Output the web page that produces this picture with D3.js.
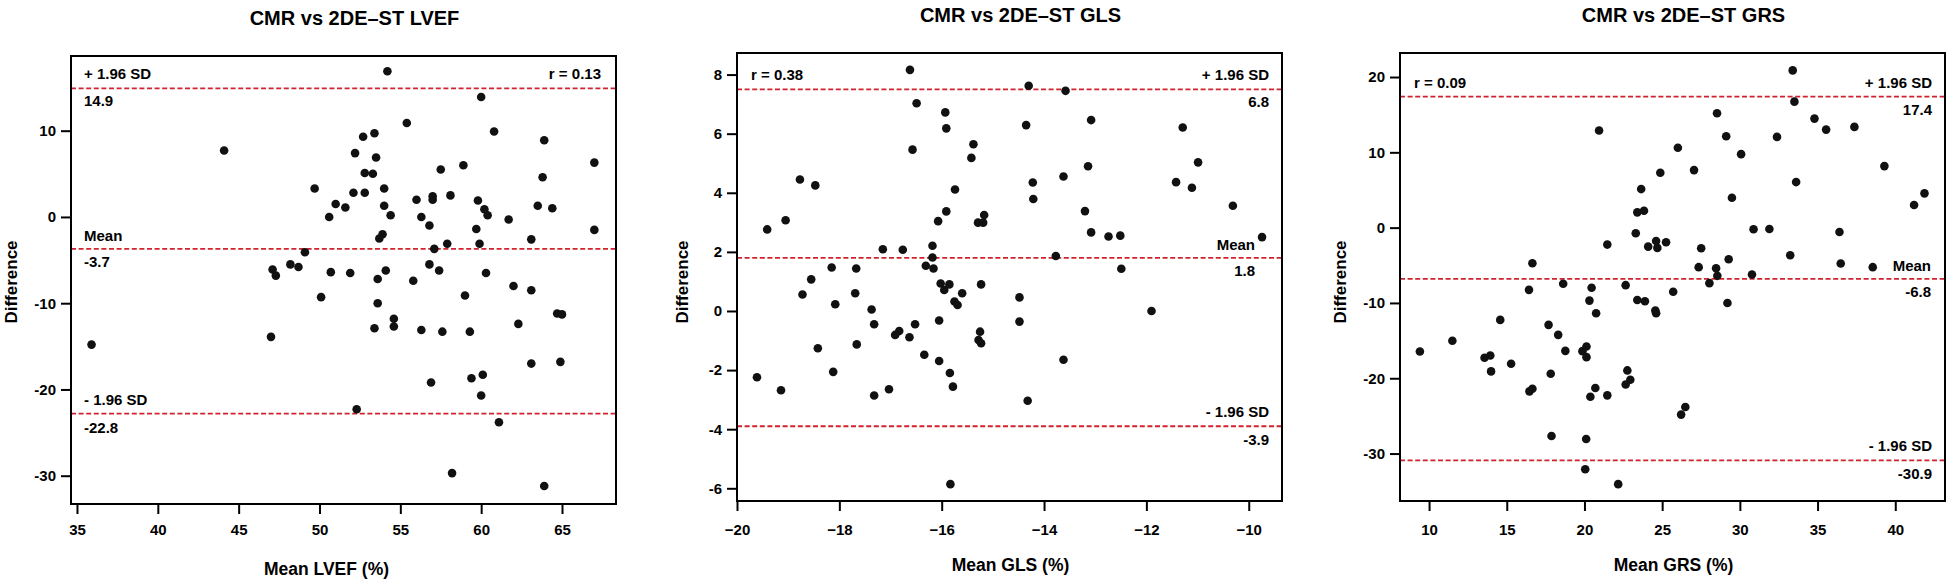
<!DOCTYPE html>
<html>
<head>
<meta charset="utf-8">
<title>Bland-Altman CMR vs 2DE-ST</title>
<script src="https://cdn.jsdelivr.net/npm/d3@7"></script>
<style>
  body { margin: 0; background: #fff; }
</style>
</head>
<body>
<script>
// ---- data ----
var lvefMean = [54.2,60.0,55.4,60.8,53.4,52.7,63.9,44.1,52.2,53.5,67.0,58.9,57.5,52.8,53.3,63.8,49.7,54.0,52.1,52.8,
                58.1,57.0,57.0,56.0,59.8,51.0,54.0,63.5,51.6,60.2,64.4,54.4,60.4,50.6,56.3,61.7,56.8,59.7,67.0,53.9,
                53.7,63.1,57.9,59.9,57.1,49.1,48.2,56.8,48.7,47.1,54.1,57.4,47.3,50.7,51.9,60.3,53.6,55.8,62.0,63.1,
                59.0,50.1,53.6,64.7,65.0,54.6,54.6,62.3,53.4,56.3,57.6,59.3,47.0,35.9,63.1,64.9,60.1,59.4,56.9,60.0,
                52.3,61.1,58.2,63.9];
var lvefDiff = [16.9,13.9,10.9,9.9,9.7,9.3,8.9,7.7,7.4,6.9,6.3,6.0,5.5,5.1,5.0,4.6,3.3,3.3,2.8,2.8,
                2.5,2.4,2.0,2.0,1.9,1.5,1.3,1.3,1.1,0.9,1.0,0.2,0.2,0.0,0.0,-0.3,-1.0,-1.4,-1.5,-2.0,
                -2.5,-2.6,-3.1,-3.1,-3.7,-4.1,-5.5,-5.5,-5.8,-6.1,-6.2,-6.2,-6.8,-6.4,-6.5,-6.5,-7.2,-7.4,-8.0,-8.5,
                -9.1,-9.3,-10.0,-11.2,-11.3,-11.8,-12.7,-12.4,-12.9,-13.1,-13.3,-13.3,-13.9,-14.8,-17.0,-16.8,-18.3,-18.7,-19.2,-20.7,
                -22.3,-23.8,-29.7,-31.2];

var glsMean = [-16.62,-14.30,-13.58,-16.49,-15.93,-13.08,-14.35,-11.29,-15.91,-16.57,-15.38,-15.42,-10.99,-13.14,-13.62,-18.77,-11.42,-14.22,-18.47,-11.11,
               -15.74,-14.21,-10.31,-13.20,-15.91,-15.17,-19.05,-16.07,-15.29,-15.19,-19.41,-13.08,-12.74,-12.51,-9.74,-16.18,-17.15,-16.76,-13.77,-16.18,
               -16.31,-18.15,-17.67,-16.16,-12.49,-18.55,-16.02,-15.85,-15.23,-15.95,-15.60,-18.72,-17.69,-14.48,-15.75,-15.69,-18.08,-17.37,-11.90,-16.05,
               -17.32,-16.52,-14.48,-16.83,-15.25,-16.91,-16.63,-15.28,-15.23,-17.66,-18.42,-16.34,-13.62,-16.05,-18.12,-15.84,-19.61,-15.78,-17.03,-19.14,
               -17.32,-14.32,-15.83];
var glsDiff = [8.16,7.62,7.45,7.03,6.72,6.46,6.29,6.21,6.18,5.46,5.64,5.18,5.03,4.90,4.55,4.45,4.36,4.35,4.25,4.17,
               4.11,3.79,3.56,3.38,3.37,3.25,3.07,3.04,2.99,2.99,2.76,2.66,2.52,2.55,2.50,2.21,2.09,2.07,1.86,1.81,
               1.53,1.47,1.44,1.44,1.43,1.07,0.93,0.90,0.90,0.71,0.60,0.56,0.60,0.46,0.32,0.20,0.23,0.05,0.00,-0.32,
               -0.45,-0.45,-0.36,-0.68,-0.70,-0.81,-0.89,-0.98,-1.09,-1.13,-1.26,-1.48,-1.65,-1.69,-2.06,-2.10,-2.24,-2.56,-2.65,-2.68,
               -2.86,-3.04,-5.86];

var grsMean = [33.40,33.51,28.53,34.80,37.37,35.55,20.94,29.12,32.39,26.01,30.08,39.30,27.05,24.88,33.62,23.65,29.49,41.88,41.21,23.83,
               23.40,30.88,31.90,36.41,23.30,21.47,24.61,25.25,24.10,24.69,27.51,29.28,33.24,16.65,36.49,38.55,27.35,28.47,28.55,30.78,
               28.04,22.65,18.63,20.46,16.43,25.71,20.32,23.40,23.89,29.20,24.56,24.61,20.75,14.58,17.69,18.31,11.50,9.41,18.77,20.13,
               19.87,20.13,13.57,13.94,15.28,13.99,17.83,22.76,22.95,22.65,16.46,16.65,20.70,20.38,21.47,26.49,26.22,17.88,20.11,20.05,
               22.17];
var grsDiff = [20.88,16.73,15.19,14.48,13.38,13.02,12.89,12.14,12.05,10.60,9.76,8.17,7.64,7.28,6.05,5.12,3.97,4.55,3.00,2.25,
               2.03,-0.22,-0.18,-0.57,-0.75,-2.25,-1.77,-1.94,-2.52,-2.69,-2.74,-4.19,-3.66,-4.72,-4.77,-5.25,-5.25,-5.39,-6.40,-6.23,
               -7.37,-7.64,-7.46,-7.99,-8.26,-8.52,-9.69,-9.60,-9.78,-10.00,-11.02,-11.37,-11.37,-12.25,-12.91,-14.24,-15.03,-16.45,-16.36,-15.78,
               -16.40,-17.20,-17.28,-16.98,-18.08,-19.09,-19.40,-18.96,-20.20,-20.82,-21.74,-21.39,-21.30,-22.45,-22.27,-23.82,-24.83,-27.66,-28.06,-32.08,
               -34.06];

var lvefXTicks = [35, 40, 45, 50, 55, 60, 65];
var lvefYTicks = [-30, -20, -10, 0, 10];
var glsXTicks = [-20, -18, -16, -14, -12, -10];
var glsYTicks = [-6, -4, -2, 0, 2, 4, 6, 8];
var grsXTicks = [10, 15, 20, 25, 30, 35, 40];
var grsYTicks = [-30, -20, -10, 0, 10, 20];

var titles = ["CMR vs 2DE\u2013ST LVEF", "CMR vs 2DE\u2013ST GLS", "CMR vs 2DE\u2013ST GRS"];
var xLabels = ["Mean LVEF (%)", "Mean GLS (%)", "Mean GRS (%)"];
var rTexts = ["r = 0.13", "r = 0.38", "r = 0.09"];
var upperLines = [14.9, 7.5, 17.4];
var meanLines = [-3.7, 1.8, -6.8];
var lowerLines = [-22.8, -3.9, -30.9];
var upperTexts = ["14.9", "6.8", "17.4"];
var meanTexts = ["-3.7", "1.8", "-6.8"];
var lowerTexts = ["-22.8", "-3.9", "-30.9"];

// ---- layout ----
var w = 1953, h = 580;
var font = "'Liberation Sans', Arial, sans-serif";
var red = "#d0232e";

var panels = [
  {mean: lvefMean, diff: lvefDiff, xt: lvefXTicks, yt: lvefYTicks,
   left: 71, right: 616, top: 56, bottom: 504, xDom: [34.63, 68.34], yDom: [-33.28, 18.66],
   labelsLeft: true, meanInset: 13, titleY: 25, xLabelY: 575, xLabelDx: -17, yLabelX: 17},
  {mean: glsMean, diff: glsDiff, xt: glsXTicks, yt: glsYTicks,
   left: 737, right: 1282, top: 53, bottom: 501, xDom: [-20, -9.35], yDom: [-6.43, 8.73],
   labelsLeft: false, meanInset: 27, titleY: 22, xLabelY: 571, xLabelDx: 1, yLabelX: 688},
  {mean: grsMean, diff: grsDiff, xt: grsXTicks, yt: grsYTicks,
   left: 1400, right: 1945, top: 53, bottom: 501, xDom: [8.13, 43.2], yDom: [-36.3, 23.19],
   labelsLeft: false, meanInset: 14, titleY: 22, xLabelY: 571, xLabelDx: 1, yLabelX: 1346}
];

var svg = d3.select("body")
            .append("svg")
            .attr("width", w)
            .attr("height", h)
            .style("display", "block");

panels.forEach(function(p, i) {
  var xScale = d3.scaleLinear().domain(p.xDom).range([p.left, p.right]);
  var yScale = d3.scaleLinear().domain(p.yDom).range([p.bottom, p.top]);
  var g = svg.append("g");

  // x axis, labels baseline at ~535
  var xAxis = d3.axisBottom(xScale)
                .tickValues(p.xt)
                .tickSize(10)
                .tickPadding(535 - p.bottom - 10 - 10.6);
  g.append("g")
   .attr("transform", "translate(0," + p.bottom + ")")
   .call(xAxis)
   .call(function(a) { a.select(".domain").remove(); });

  var yAxis = d3.axisLeft(yScale)
                .tickValues(p.yt)
                .tickSize(10)
                .tickPadding(5)
                .tickFormat(function(d) { return String(d); });   // hyphen minus like the source
  g.append("g")
   .attr("transform", "translate(" + p.left + ",0)")
   .call(yAxis)
   .call(function(a) { a.select(".domain").remove(); });

  g.selectAll(".tick line").attr("stroke", "#000").attr("stroke-width", 2);
  g.selectAll(".tick text")
   .attr("font-family", font)
   .attr("font-weight", "bold")
   .attr("font-size", "15px")
   .attr("fill", "#000");

  // Bland-Altman lines
  [upperLines[i], meanLines[i], lowerLines[i]].forEach(function(v) {
    g.append("line")
     .attr("x1", p.left).attr("x2", p.right)
     .attr("y1", yScale(v)).attr("y2", yScale(v))
     .attr("stroke", red)
     .attr("stroke-width", 1.8)
     .attr("stroke-dasharray", "5,2.6");
  });

  // points
  g.selectAll("circle.pt")
   .data(d3.zip(p.mean, p.diff))
   .enter()
   .append("circle")
   .attr("cx", function(d) { return xScale(d[0]); })
   .attr("cy", function(d) { return yScale(d[1]); })
   .attr("r", 4.3)
   .attr("fill", "#111");

  // frame
  g.append("rect")
   .attr("x", p.left).attr("y", p.top)
   .attr("width", p.right - p.left).attr("height", p.bottom - p.top)
   .attr("fill", "none")
   .attr("stroke", "#000")
   .attr("stroke-width", 2);

  function label(txt, x, y, anchor) {
    g.append("text")
     .text(txt)
     .attr("x", x).attr("y", y)
     .attr("text-anchor", anchor)
     .attr("font-family", font)
     .attr("font-weight", "bold")
     .attr("font-size", "15px")
     .attr("fill", "#000");
  }

  var sx = p.labelsLeft ? p.left + 13 : p.right - 13;
  var mx = p.labelsLeft ? p.left + p.meanInset : p.right - p.meanInset;
  var sa = p.labelsLeft ? "start" : "end";
  var rx = p.labelsLeft ? p.right - 15 : p.left + 14;
  var ra = p.labelsLeft ? "end" : "start";

  label("+ 1.96 SD", sx, yScale(upperLines[i]) - 9, sa);
  label(upperTexts[i], sx, yScale(upperLines[i]) + 18, sa);
  label("Mean", mx, yScale(meanLines[i]) - 8, sa);
  label(meanTexts[i], mx, yScale(meanLines[i]) + 18, sa);
  label("- 1.96 SD", sx, yScale(lowerLines[i]) - 9, sa);
  label(lowerTexts[i], sx, yScale(lowerLines[i]) + 19, sa);
  label(rTexts[i], rx, yScale(upperLines[i]) - 9, ra);

  // title and axis titles
  g.append("text")
   .text(titles[i])
   .attr("x", (p.left + p.right) / 2 + 11)
   .attr("y", p.titleY)
   .attr("text-anchor", "middle")
   .attr("font-family", font)
   .attr("font-weight", "bold")
   .attr("font-size", "20px");

  g.append("text")
   .text(xLabels[i])
   .attr("x", (p.left + p.right) / 2 + p.xLabelDx)
   .attr("y", p.xLabelY)
   .attr("text-anchor", "middle")
   .attr("font-family", font)
   .attr("font-weight", "bold")
   .attr("font-size", "17.5px");

  g.append("text")
   .text("Difference")
   .attr("transform", "translate(" + p.yLabelX + "," + 282 + ") rotate(-90)")
   .attr("text-anchor", "middle")
   .attr("font-family", font)
   .attr("font-weight", "bold")
   .attr("font-size", "17px");
});
</script>
</body>
</html>
